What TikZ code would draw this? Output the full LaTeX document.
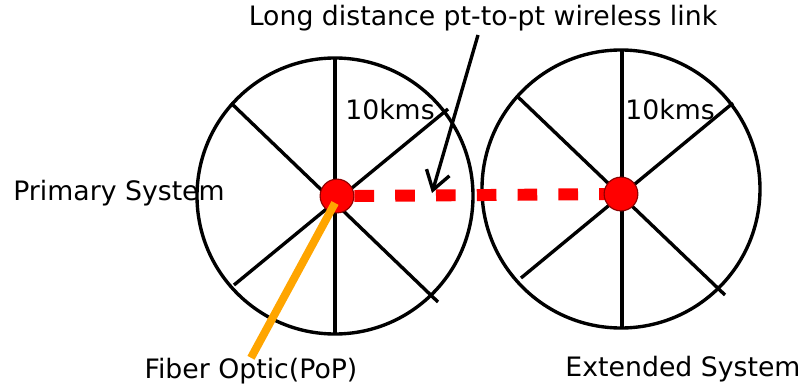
\documentclass[tikz,border=0pt]{standalone}
\usepackage{fontspec}
\setmainfont{DejaVu Sans}
\usetikzlibrary{arrows.meta}

\definecolor{fiberorange}{RGB}{255,165,0}

\tikzset{
  spoke/.style={line width=2.4pt},
  dot/.style={circle,fill=red,draw=red!55!black,line width=0.8pt,minimum size=24pt,inner sep=0pt},
  link/.style={red,line width=8.5pt,dash pattern=on 14pt off 15pt},
  fiber/.style={fiberorange,line width=5.7pt},
  lbl/.style={inner sep=0pt,font=\fontsize{19}{23}\selectfont}
}

\begin{document}
\begin{tikzpicture}[x=0.025cm,y=-0.025cm]
   \useasboundingbox (0,0) rectangle (803,387);
   % primary system
   \draw[spoke] (335,196) circle (138);
   \draw[spoke] (335,58) -- (335,335);
   \draw[spoke] (231,103) -- (438,302);
   \draw[spoke] (234,285) -- (448,109);
   % extended system
   \draw[spoke] (621,189) circle (139);
   \draw[spoke] (622,51) -- (622,327);
   \draw[spoke] (518,97) -- (725,295);
   \draw[spoke] (521,278) -- (733,103);

   \coordinate (ec) at (621,194);
   \node[dot] (pdot) at (337,196) {};
   \draw[link] (pdot.east) -- (ec);
   \node[dot] (edot) at (ec) {};

   \node[lbl] (wl) at (483,18) {Long distance pt-to-pt wireless link};
   \node[lbl] (kma) at (390,110) {10kms};
   \node[lbl] (kmb) at (670,110) {10kms};
   \node[lbl] (prim) at (119,193) {Primary System};
   \node[lbl] (pop) at (251,371) {Fiber Optic(PoP)};
   \node[lbl] (ext) at (683,369) {Extended System};

   \coordinate (from) at (478,35);
   \coordinate (aim) at (432,193);
   \draw[line width=2.4pt,-{Straight Barb[length=13pt,width=17pt]}] (from) -- (aim);
   \draw[fiber] (335,203) -- (pop.north);
\end{tikzpicture}
\end{document}
